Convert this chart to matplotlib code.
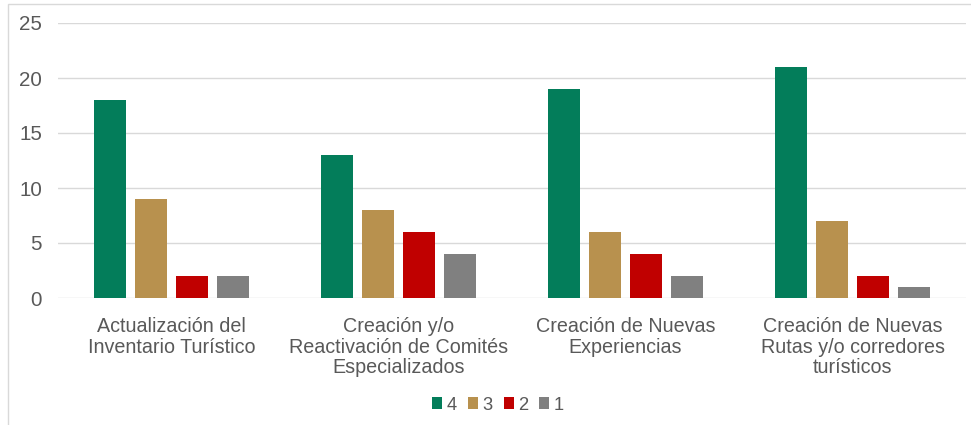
import matplotlib
import matplotlib.pyplot as plt
import numpy as np
from matplotlib.patches import Rectangle

matplotlib.use("Agg")
plt.rcParams["font.family"] = ["Liberation Sans", "DejaVu Sans"]

categories = [
    "Actualización del\nInventario Turístico",
    "Creación y/o\nReactivación de Comités\nEspecializados",
    "Creación de Nuevas\nExperiencias",
    "Creación de Nuevas\nRutas y/o corredores\nturísticos",
]
series_names = ["4", "3", "2", "1"]
values_4 = [18, 13, 19, 21]
values_3 = [9, 8, 6, 7]
values_2 = [2, 6, 4, 2]
values_1 = [2, 4, 2, 1]
colors = ["#037D5A", "#B8914E", "#C00000", "#808080"]

fig = plt.figure(figsize=(9.71, 4.25), dpi=100)
ax = fig.add_axes([58 / 971, 1 - 298 / 425, (966 - 58) / 971, (298 - 23) / 425])

# light frame around the chart
fig.patches.append(Rectangle((8 / 971, -0.01), 1.0, 1 - 4 / 425 + 0.01,
                             transform=fig.transFigure, fill=False,
                             edgecolor="#D9D9D9", linewidth=1))

x = np.arange(len(categories))
width = 0.14
step = 0.18
all_values = [values_4, values_3, values_2, values_1]
for i, (vals, name, c) in enumerate(zip(all_values, series_names, colors)):
    ax.bar(x + (i - 1.5) * step, vals, width, color=c, label=name, zorder=3)

ax.set_xlim(-0.5, len(categories) - 0.5)
ax.set_ylim(0, 25)
ax.set_yticks([0, 5, 10, 15, 20, 25])
ax.grid(axis="y", color="#D9D9D9", linewidth=1, zorder=0)
for s in ax.spines.values():
    s.set_visible(False)
ax.tick_params(axis="both", length=0, labelcolor="#595959")
ax.tick_params(axis="y", labelsize=14.8, pad=11.5)
ax.set_xticks(x)
ax.set_xticklabels(categories, linespacing=1.1)
ax.tick_params(axis="x", labelsize=14.2, pad=14)

ax.legend(loc="center", bbox_to_anchor=(498 / 971, 1 - 405 / 425),
          bbox_transform=fig.transFigure, ncol=4, frameon=False,
          fontsize=13.2, labelcolor="#595959", handlelength=0.55,
          handleheight=0.55, handletextpad=0.25, columnspacing=0.6)

fig.savefig("out.png", dpi=100)
